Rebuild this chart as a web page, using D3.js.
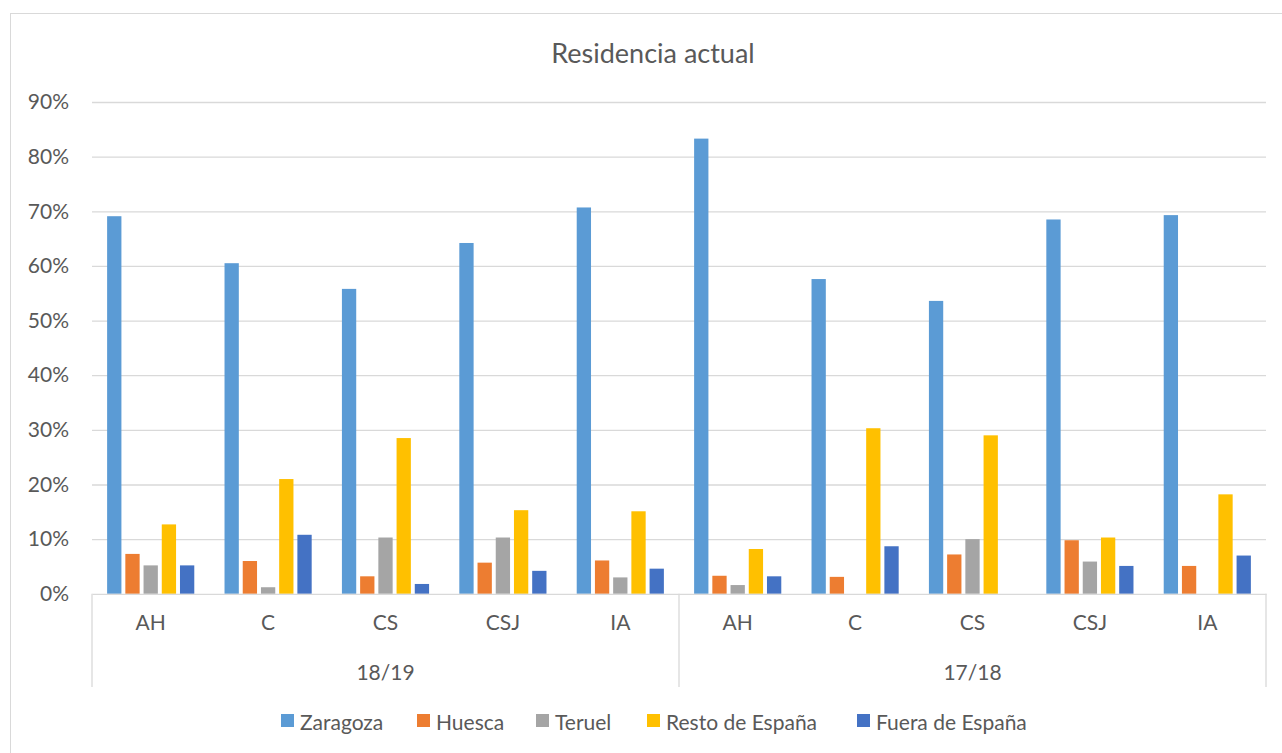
<!DOCTYPE html>
<html>
<head>
<meta charset="utf-8">
<script src="https://cdn.jsdelivr.net/npm/d3@7"></script>
<style>
  body { margin: 0; background: #fff; }
  svg { display: block; font-family: Lato, "Open Sans", sans-serif; }
</style>
</head>
<body>
<div id="app"></div>
<script>
// data (percent)
const groups = ['18/19', '17/18'];
const categories = ['AH', 'C', 'CS', 'CSJ', 'IA'];
const seriesNames = ['Zaragoza', 'Huesca', 'Teruel', 'Resto de España', 'Fuera de España'];
const seriesColors = ['#5B9BD5', '#ED7D31', '#A5A5A5', '#FFC000', '#4472C4'];

const zaragoza = [69.1, 60.5, 55.8, 64.2, 70.7, 83.3, 57.6, 53.6, 68.5, 69.3];
const huesca   = [7.3, 6.0, 3.2, 5.7, 6.1, 3.3, 3.1, 7.2, 9.8, 5.1];
const teruel   = [5.2, 1.2, 10.3, 10.3, 3.0, 1.6, 0, 10.0, 5.9, 0];
const resto    = [12.7, 21.0, 28.5, 15.3, 15.1, 8.2, 30.3, 29.0, 10.3, 18.2];
const fuera    = [5.2, 10.8, 1.8, 4.2, 4.6, 3.2, 8.7, 0, 5.1, 7.0];

const yTicks = [0, 0.1, 0.2, 0.3, 0.4, 0.5, 0.6, 0.7, 0.8, 0.9];

const seriesValues = [zaragoza, huesca, teruel, resto, fuera];

const width = 1282;
const height = 753;
const plotLeft = 92, plotRight = 1266, plotTop = 102, plotBottom = 593.8;
const textColor = '#595959';
const lineColor = '#D9D9D9';
const labelSize = '21px';

const keys = [];
groups.forEach(g => categories.forEach(c => keys.push(g + '|' + c)));

const rows = keys.map((k, i) => ({
  key: k,
  values: seriesNames.map((s, j) => ({ name: s, value: seriesValues[j][i] / 100, color: seriesColors[j] }))
}));

const svg = d3.select('#app')
  .append('svg')
  .attr('width', width)
  .attr('height', height);

// chart frame
svg.append('rect')
  .attr('x', 10.5).attr('y', 13.5)
  .attr('width', 1300).attr('height', 800)
  .attr('fill', '#fff')
  .attr('stroke', lineColor);

svg.append('text')
  .attr('x', 653).attr('y', 52)
  .attr('text-anchor', 'middle')
  .attr('dominant-baseline', 'central')
  .attr('fill', textColor)
  .style('font-size', '27px')
  .text('Residencia actual');

const x0 = d3.scaleBand().domain(keys).range([plotLeft, plotRight]);
const x1 = d3.scaleBand().domain(seriesNames)
  .range([0, x0.bandwidth()])
  .paddingInner(0.215)
  .paddingOuter(0.83);
const y = d3.scaleLinear().domain([0, 0.9]).range([plotBottom, plotTop]);

// gridlines
const grid = svg.append('g')
  .attr('transform', `translate(${plotLeft},0)`)
  .call(d3.axisLeft(y).tickValues(yTicks.slice(1)).tickSize(-(plotRight - plotLeft)).tickFormat(''));
grid.select('.domain').remove();
grid.selectAll('line').attr('stroke', lineColor).attr('stroke-width', 1.3);

// y labels
const yAxis = svg.append('g')
  .attr('transform', `translate(${plotLeft},0)`)
  .call(d3.axisLeft(y).tickValues(yTicks).tickSize(0).tickPadding(23).tickFormat(d3.format('.0%')));
yAxis.select('.domain').remove();
yAxis.selectAll('text')
  .attr('fill', textColor)
  .style('font-size', labelSize)
  .style('font-family', 'Lato, sans-serif');

// bars
svg.append('g')
  .selectAll('g')
  .data(rows)
  .join('g')
  .attr('transform', d => `translate(${x0(d.key)},0)`)
  .selectAll('rect')
  .data(d => d.values)
  .join('rect')
  .attr('x', d => x1(d.name))
  .attr('width', x1.bandwidth())
  .attr('y', d => y(d.value))
  .attr('height', d => y(0) - y(d.value))
  .attr('fill', d => d.color);

// category axis
const xAxis = svg.append('g')
  .attr('transform', `translate(0,${plotBottom})`)
  .call(d3.axisBottom(x0).tickSize(0).tickPadding(21).tickFormat(k => k.split('|')[1]));
xAxis.select('.domain').attr('stroke', lineColor).attr('stroke-width', 1.3);
xAxis.selectAll('text')
  .attr('fill', textColor)
  .style('font-size', labelSize)
  .style('font-family', 'Lato, sans-serif');

const xg = d3.scaleBand().domain(groups).range([plotLeft, plotRight]);

svg.append('g')
  .selectAll('line')
  .data([plotLeft, xg('17/18'), plotRight])
  .join('line')
  .attr('x1', d => d).attr('x2', d => d)
  .attr('y1', plotBottom).attr('y2', 687)
  .attr('stroke', lineColor)
  .attr('stroke-width', 1.3);

svg.append('g')
  .selectAll('text')
  .data(groups)
  .join('text')
  .attr('x', d => xg(d) + xg.bandwidth() / 2)
  .attr('y', 671)
  .attr('text-anchor', 'middle')
  .attr('dominant-baseline', 'central')
  .attr('fill', textColor)
  .style('font-size', labelSize)
  .text(d => d);

// legend
const legendX = [281, 417, 536, 647, 857];
const legend = svg.append('g')
  .selectAll('g')
  .data(seriesNames)
  .join('g')
  .attr('transform', (d, i) => `translate(${legendX[i]},721)`);
legend.append('rect')
  .attr('x', 0).attr('y', -7)
  .attr('width', 13).attr('height', 13)
  .attr('fill', (d, i) => seriesColors[i]);
legend.append('text')
  .attr('x', 19).attr('y', 0)
  .attr('dominant-baseline', 'central')
  .attr('fill', textColor)
  .style('font-size', labelSize)
  .text(d => d);
</script>
</body>
</html>
